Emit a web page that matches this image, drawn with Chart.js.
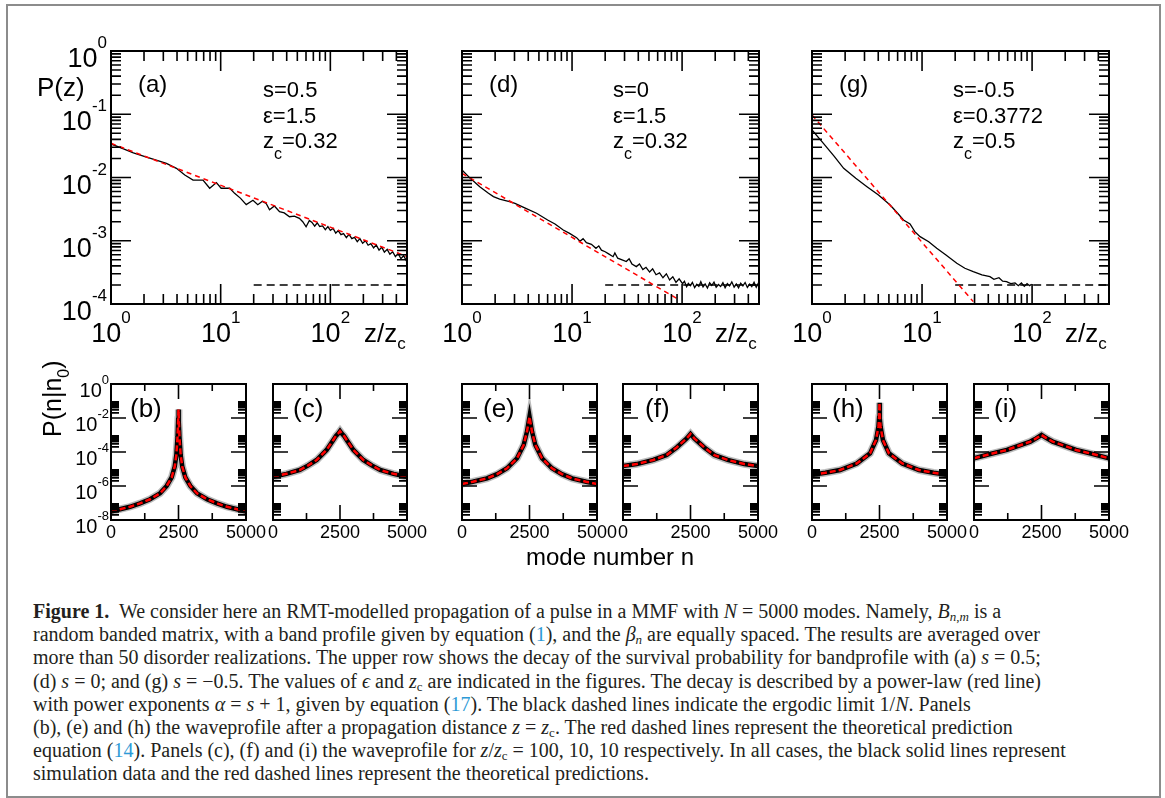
<!DOCTYPE html>
<html>
<head>
<meta charset="utf-8">
<script src="https://cdn.jsdelivr.net/npm/chart.js@4.4.1/dist/chart.umd.min.js"></script>
<style>
body { margin:0; background:#fff; width:1165px; height:798px; overflow:hidden; position:relative; }
#frame { position:absolute; left:6px; top:4px; width:1151px; height:790px; border:2px solid #8c8c8c; }
canvas { position:absolute; left:0; top:0; }
#caption { position:absolute; left:33px; top:600px; font-family:"Liberation Serif", "DejaVu Serif", serif; font-size:20px; line-height:23.2px; color:#231f20; white-space:nowrap; }
#caption i { font-style:italic; }
#caption sub { font-size:13px; vertical-align:-3px; line-height:0; }
#caption .l { color:#2d9ad6; }
</style>
</head>
<body>
<div id="frame"></div>
<canvas id="pa" width="1165" height="575"></canvas>
<canvas id="pd" width="1165" height="575"></canvas>
<canvas id="pg" width="1165" height="575"></canvas>
<canvas id="pb" width="1165" height="575"></canvas>
<canvas id="pc" width="1165" height="575"></canvas>
<canvas id="pe" width="1165" height="575"></canvas>
<canvas id="pf" width="1165" height="575"></canvas>
<canvas id="ph" width="1165" height="575"></canvas>
<canvas id="pi" width="1165" height="575"></canvas>
<div id="caption">
<div><b>Figure 1.</b>&nbsp; We consider here an RMT-modelled propagation of a pulse in a MMF with <i>N</i> = 5000 modes. Namely, <i>B</i><sub><i>n</i>,<i>m</i></sub> is a</div>
<div>random banded matrix, with a band profile given by equation (<span class="l">1</span>), and the <i>β</i><sub><i>n</i></sub> are equally spaced. The results are averaged over</div>
<div>more than 50 disorder realizations. The upper row shows the decay of the survival probability for bandprofile with (a) <i>s</i> = 0.5;</div>
<div>(d) <i>s</i> = 0; and (g) <i>s</i> = −0.5. The values of <i>ϵ</i> and <i>z</i><sub>c</sub> are indicated in the figures. The decay is described by a power-law (red line)</div>
<div>with power exponents <i>α</i> = <i>s</i> + 1, given by equation (<span class="l">17</span>). The black dashed lines indicate the ergodic limit 1/<i>N</i>. Panels</div>
<div>(b), (e) and (h) the waveprofile after a propagation distance <i>z</i> = <i>z</i><sub>c</sub>. The red dashed lines represent the theoretical prediction</div>
<div>equation (<span class="l">14</span>). Panels (c), (f) and (i) the waveprofile for <i>z</i>/<i>z</i><sub>c</sub> = 100, 10, 10 respectively. In all cases, the black solid lines represent</div>
<div>simulation data and the red dashed lines represent the theoretical predictions.</div>
</div>
<script>
// Top row: survival probability P(z) against z/z_c (log-log)
const aSimX = [1, 1.3, 1.6, 2.04, 2.5, 3.2, 3.95, 4.71, 5.6, 6.9, 7.94, 9.14, 10.1, 12.1, 13.4, 15.2, 17.1, 19.7, 21.8, 24, 26, 27.9, 30.9, 34.4, 38, 42.4, 47, 52.2, 56, 60.1, 64.4,
  68, 72, 76, 80, 85, 90, 95, 100, 106, 112, 118, 125, 132, 140, 148, 157, 166, 176, 186, 197, 209, 221, 234, 248, 262, 278, 294, 311, 330, 349, 370, 392, 415, 440, 466, 494, 500];
const aSimY = [0.0339, 0.0284, 0.0245, 0.0214, 0.0191, 0.01675, 0.01396, 0.01096, 0.00912, 0.00912, 0.00676, 0.00832, 0.00676, 0.00676, 0.00562, 0.00468, 0.00372, 0.00437, 0.00372, 0.0042, 0.00389, 0.00309, 0.00355, 0.00288, 0.00275, 0.0024, 0.00245, 0.00226, 0.002, 0.00166, 0.00209,
  0.00195, 0.0017, 0.00192, 0.00168, 0.00172, 0.0015, 0.00167, 0.00146, 0.00156, 0.00132, 0.00145, 0.00125, 0.0013, 0.00112, 0.00126, 0.00108, 0.00113, 0.00097, 0.00108, 0.00091, 0.001, 0.00085, 0.0009, 0.00077, 0.00086, 0.00071, 0.00079, 0.00066, 0.00073, 0.00061, 0.00067, 0.00056, 0.00063, 0.00052, 0.00058, 0.00048, 0.00052];
const aFitX = [1, 500];
const aFitY = [0.0347, 5.64e-4];

const dSimX = [1, 1.19, 1.45, 1.74, 1.93, 2.2, 2.7, 3.03, 3.8, 4.76, 6, 7, 8.32, 9.5, 11, 11.8, 12.6, 13.5, 15, 16.5, 17.5, 18.5, 20, 21.5, 23.6, 24.5, 26, 28.5, 31.1, 33, 35, 38.4, 41, 44, 47, 50.7, 54, 58, 62.4, 67, 72, 77, 82.4, 88, 94, 101,
  105, 110, 114, 119, 124, 130, 136, 142, 148, 155, 162, 170, 178, 186, 195, 204, 214, 224, 235, 246, 258, 270, 283, 297, 311, 326, 341, 357, 374, 392, 411, 430, 451, 472, 490, 500];
const dSimY = [0.01315, 0.0097, 0.00716, 0.00562, 0.00498, 0.00457, 0.00417, 0.00391, 0.00326, 0.00272, 0.00213, 0.00184, 0.00148, 0.00131, 0.00112, 0.00098, 0.00108, 0.00093, 0.00088, 0.00076, 0.00083, 0.00071, 0.00067, 0.00062, 0.00056, 0.00064, 0.00053, 0.0005, 0.00047, 0.00052, 0.00043, 0.00039, 0.00043, 0.00035, 0.00038, 0.00032, 0.00036, 0.00029, 0.00031, 0.00026, 0.0003, 0.00024, 0.00027, 0.00022, 0.00025, 0.00021,
  0.000228, 0.000188, 0.000212, 0.000195, 0.00022, 0.000182, 0.000205, 0.00019, 0.000225, 0.000186, 0.000208, 0.000179, 0.000216, 0.000196, 0.000222, 0.000184, 0.000203, 0.000189, 0.000218, 0.000181, 0.00021, 0.000193, 0.000224, 0.000185, 0.000207, 0.00018, 0.000214, 0.000194, 0.000219, 0.000183, 0.000206, 0.000188, 0.000221, 0.000184, 0.000209, 0.0002];
const dFitX = [1, 94.6];
const dFitY = [0.01164, 1.16e-4];

const gSimX = [1, 1.27, 1.6, 1.94, 2.5, 3.16, 4.02, 5.13, 6, 6.78, 7.78, 8.6, 9.6, 11.5, 13.6, 16.5, 20.7, 24.5, 29.2, 35, 41.4, 45, 50, 54, 58.6, 64, 70, 75, 80, 85, 90, 95, 99];
const gSimY = [0.0564, 0.0347, 0.0214, 0.01396, 0.0097, 0.00716, 0.00528, 0.00367, 0.00272, 0.00213, 0.00184, 0.00139, 0.00116, 9.66e-4, 7.59e-4, 5.95e-4, 4.4e-4, 3.67e-4, 3.24e-4, 2.88e-4, 2.7e-4, 2.45e-4, 2.6e-4, 2.3e-4, 2.25e-4, 2.1e-4, 2.15e-4, 1.95e-4, 2.15e-4, 1.9e-4, 2.1e-4, 1.95e-4, 2.05e-4];
const gFitX = [1, 29.2];
const gFitY = [0.0973, 1.09e-4];

// ergodic limit 1/N
const ergX = [20, 500];
const ergY = [2e-4, 2e-4];

// Bottom row: wave profile P(n|n0) against mode number n
const bN = [0, 333, 704, 1074, 1444, 1815, 2062, 2247, 2360, 2420, 2465, 2488, 2500, 2512, 2535, 2580, 2640, 2753, 2938, 3185, 3556, 3926, 4296, 4667, 5000];
const bP = [3.1e-8, 4.3e-8, 6.0e-8, 9.5e-8, 1.66e-7, 3.7e-7, 1.0e-6, 3.2e-6, 1.38e-5, 6.6e-5, 7.9e-4, 7.6e-3, 3.2e-2, 7.6e-3, 7.9e-4, 6.6e-5, 1.38e-5, 3.2e-6, 1.0e-6, 3.7e-7, 1.66e-7, 9.5e-8, 6.0e-8, 4.3e-8, 3.1e-8];
const cN = [0, 500, 1000, 1300, 1630, 2000, 2250, 2350, 2440, 2500, 2560, 2650, 2750, 3000, 3370, 3700, 4000, 4500, 5000];
const cP = [3.5e-6, 5.2e-6, 8.7e-6, 1.58e-5, 3.4e-5, 1.32e-4, 5.1e-4, 8.9e-4, 1.26e-3, 1.7e-3, 1.26e-3, 8.9e-4, 5.1e-4, 1.32e-4, 3.4e-5, 1.58e-5, 8.7e-6, 5.2e-6, 3.5e-6];
const eN = [0, 400, 926, 1300, 1667, 2037, 2284, 2407, 2460, 2500, 2540, 2593, 2716, 2963, 3333, 3700, 4074, 4600, 5000];
const eP = [1.32e-6, 1.78e-6, 2.8e-6, 5.0e-6, 1.1e-5, 4.3e-5, 2.6e-4, 1.58e-3, 5.0e-3, 1.2e-2, 5.0e-3, 1.58e-3, 2.6e-4, 4.3e-5, 1.1e-5, 5.0e-6, 2.8e-6, 1.78e-6, 1.32e-6];
const fN = [0, 506, 1123, 1617, 1988, 2358, 2500, 2642, 3012, 3383, 3877, 4494, 5000];
const fP = [1.5e-5, 1.95e-5, 3.4e-5, 6.6e-5, 1.86e-4, 6.3e-4, 1.15e-3, 6.3e-4, 1.86e-4, 6.6e-5, 3.4e-5, 1.95e-5, 1.5e-5];
const hN = [0, 500, 1039, 1657, 2150, 2373, 2460, 2485, 2500, 2515, 2540, 2627, 2850, 3343, 3961, 4500, 5000];
const hP = [4.5e-6, 6.0e-6, 8.7e-6, 2.1e-5, 8.3e-5, 5.1e-4, 3.1e-3, 1.0e-2, 7.9e-2, 1.0e-2, 3.1e-3, 5.1e-4, 8.3e-5, 2.1e-5, 8.7e-6, 6.0e-6, 4.5e-6];
const iN = [0, 600, 1222, 2086, 2300, 2500, 2700, 2914, 3778, 4400, 5000];
const iP = [4.3e-5, 7.6e-5, 1.32e-4, 4.1e-4, 6.3e-4, 1.0e-3, 6.3e-4, 4.1e-4, 1.32e-4, 7.6e-5, 4.3e-5];

// Axis ticks
const topXMajor = [1, 10, 100];
const topXLabels = ['0', '1', '2'];
const topYMajor = [1, 1e-1, 1e-2, 1e-3, 1e-4];
const topYLabels = ['0', '-1', '-2', '-3', '-4'];
const botXMajor = [0, 2500, 5000];
const botXMinor = [1250, 3750];
const botXLabels = ['0', '2500', '5000'];
const botYMajor = [1, 1e-2, 1e-4, 1e-6, 1e-8];
const botYLabels = ['0', '-2', '-4', '-6', '-8'];

const W = 1165, H = 575;
const FONT = '"Liberation Sans", Arial, sans-serif';

function logMinors(decades, max) {
    let out = [];
    decades.forEach(d => {
        for (let k = 2; k <= 9; k++) if (k * d <= max * 1.0001) out.push(k * d);
    });
    return out;
}

const topXTicks = topXMajor.map(v => ({ v, len: 20 })).concat(logMinors([1, 10, 100], 500).map(v => ({ v, len: 10 })));
const topYTicks = topYMajor.map(v => ({ v, len: 20 })).concat(logMinors([1e-4, 1e-3, 1e-2, 1e-1], 1).map(v => ({ v, len: 10 })));
const botXTicks = botXMajor.map(v => ({ v, len: 15 })).concat(botXMinor.map(v => ({ v, len: 7 })));
const botYTicks = botYMajor.map(v => ({ v, len: 15 })).concat(logMinors([1e-8, 1e-6, 1e-4, 1e-2], 1).map(v => ({ v, len: 8 })));

// text with optional sub/superscript parts: [text, shift, size]
function drawParts(ctx, parts, x, y, align) {
    let widths = parts.map(p => { ctx.font = p[2] + 'px ' + FONT; return ctx.measureText(p[0]).width; });
    let total = widths.reduce((s, w) => s + w, 0);
    let cx = align === 'right' ? x - total : align === 'center' ? x - total / 2 : x;
    ctx.textAlign = 'left';
    ctx.textBaseline = 'alphabetic';
    parts.forEach((p, i) => {
        ctx.font = p[2] + 'px ' + FONT;
        ctx.fillText(p[0], cx, y + p[1]);
        cx += widths[i];
    });
}

const figPlugin = {
    id: 'fig',
    afterDatasetsDraw(chart, args, o) {
        const ctx = chart.ctx, a = chart.chartArea, xs = chart.scales.x, ys = chart.scales.y;
        const top = o.kind === 'top';
        ctx.save();
        ctx.strokeStyle = '#000';
        ctx.fillStyle = '#000';
        ctx.lineWidth = 1.6;
        ctx.beginPath();
        (top ? topXTicks : botXTicks).forEach(t => {
            const px = xs.getPixelForValue(t.v);
            ctx.moveTo(px, a.bottom); ctx.lineTo(px, a.bottom - t.len);
            ctx.moveTo(px, a.top); ctx.lineTo(px, a.top + t.len);
        });
        (top ? topYTicks : botYTicks).forEach(t => {
            const py = ys.getPixelForValue(t.v);
            ctx.moveTo(a.left, py); ctx.lineTo(a.left + t.len, py);
            ctx.moveTo(a.right, py); ctx.lineTo(a.right - t.len, py);
        });
        ctx.stroke();
        ctx.lineWidth = 2;
        ctx.strokeRect(a.left, a.top, a.right - a.left, a.bottom - a.top);

        if (top) {
            topXMajor.forEach((v, i) => {
                drawParts(ctx, [['10', 0, 27], [topXLabels[i], -19, 17]], xs.getPixelForValue(v), 342, 'center');
            });
            if (o.showY) {
                topYMajor.forEach((v, i) => {
                    const py = ys.getPixelForValue(v);
                    drawParts(ctx, [['10', 16, 27], [topYLabels[i], -3, 17]], a.left - 4, py, 'right');
                });
            }
            drawParts(ctx, [['z/z', 0, 26], ['c', 7, 17]], o.xTitleX, 342, 'left');
        } else {
            ctx.font = '18px ' + FONT;
            ctx.textAlign = 'center';
            botXMajor.forEach((v, i) => ctx.fillText(botXLabels[i], xs.getPixelForValue(v), 538));
            if (o.showY) {
                botYMajor.forEach((v, i) => {
                    const py = ys.getPixelForValue(v);
                    drawParts(ctx, [['10', 13, 20], [botYLabels[i], 0, 13]], a.left - 2, py, 'right');
                });
            }
        }
        (o.texts || []).forEach(t => drawParts(ctx, t.parts, t.x, t.y, 'left'));
        if (o.extra) o.extra(ctx);
        ctx.restore();
    }
};

// lower "order" is drawn on top
function line(xs, ys, color, width, dash, order) {
    return {
        data: xs.map((x, i) => ({ x, y: ys[i] })),
        borderColor: color, borderWidth: width, borderDash: dash || [],
        pointRadius: 0, tension: 0, fill: false, clip: 0, order: order
    };
}

function makePanel(id, box, kind, datasets, opts) {
    const scales = kind === 'top'
        ? { x: { type: 'logarithmic', min: 1, max: 500, display: false }, y: { type: 'logarithmic', min: 1e-4, max: 1, display: false } }
        : { x: { type: 'linear', min: 0, max: 5000, display: false }, y: { type: 'logarithmic', min: 1e-8, max: 1, display: false } };
    return new Chart(document.getElementById(id), {
        type: 'line',
        data: { datasets },
        options: {
            responsive: false, animation: false, devicePixelRatio: 1, events: [],
            layout: { padding: { left: box[0], top: box[1], right: W - box[2], bottom: H - box[3] } },
            scales,
            plugins: { legend: { display: false }, tooltip: { enabled: false }, fig: Object.assign({ kind }, opts) }
        },
        plugins: [figPlugin]
    });
}

function annot(label, x0, lines) {
    return [
        { parts: [[label, 0, 24]], x: x0, y: 92 },
        { parts: [[lines[0], 0, 22]], x: x0 + lines[3], y: 97 },
        { parts: [['ε=' + lines[1], 0, 22]], x: x0 + lines[3], y: 123 },
        { parts: [['z', 0, 22], ['c', 11, 16], ['=' + lines[2], 0, 22]], x: x0 + lines[3], y: 148 }
    ];
}

function topSets(sx, sy, fx, fy) {
    return [
        line(ergX, ergY, '#000', 1.5, [8, 5], 3),
        line(sx, sy, '#000', 1.3, [], 2),
        line(fx, fy, '#f00', 1.5, [5, 4], 1)
    ];
}

function botSets(n, p) {
    return [
        line(n, p, 'rgba(170,170,170,0.8)', 7.5, [], 3),
        line(n, p, '#000', 4.5, [], 2),
        line(n, p, '#f00', 2.5, [6, 3], 1)
    ];
}

window.onload = function () {
    makePanel('pa', [111, 51, 407, 304], 'top', topSets(aSimX, aSimY, aFitX, aFitY), {
        showY: true, xTitleX: 364,
        texts: annot('(a)', 138, ['s=0.5', '1.5', '0.32', 125]).concat([{ parts: [['P(z)', 0, 26]], x: 37, y: 96 }])
    });
    makePanel('pd', [462, 51, 759, 304], 'top', topSets(dSimX, dSimY, dFitX, dFitY), {
        xTitleX: 715, texts: annot('(d)', 489, ['s=0', '1.5', '0.32', 124])
    });
    makePanel('pg', [812, 51, 1109, 304], 'top', topSets(gSimX, gSimY, gFitX, gFitY), {
        xTitleX: 1065, texts: annot('(g)', 839, ['s=-0.5', '0.3772', '0.5', 114])
    });
    const lab = (t, x) => [{ parts: [[t, 0, 26]], x, y: 417 }];
    makePanel('pb', [111, 384, 246, 520], 'bot', botSets(bN, bP), {
        showY: true, texts: lab('(b)', 130),
        extra(ctx) {
            ctx.save();
            ctx.translate(61, 437);
            ctx.rotate(-Math.PI / 2);
            drawParts(ctx, [['P(n|n', 0, 25], ['0', 8, 16], [')', 0, 25]], 0, 0, 'left');
            ctx.restore();
        }
    });
    makePanel('pc', [273, 384, 407, 520], 'bot', botSets(cN, cP), { texts: lab('(c)', 293) });
    makePanel('pe', [462, 384, 597, 520], 'bot', botSets(eN, eP), {
        texts: lab('(e)', 483).concat([{ parts: [['mode number n', 0, 24]], x: 526, y: 565 }])
    });
    makePanel('pf', [623, 384, 758, 520], 'bot', botSets(fN, fP), { texts: lab('(f)', 645) });
    makePanel('ph', [812, 384, 947, 520], 'bot', botSets(hN, hP), { texts: lab('(h)', 832) });
    makePanel('pi', [974, 384, 1109, 520], 'bot', botSets(iN, iP), { texts: lab('(i)', 994) });
};
</script>
</body>
</html>
